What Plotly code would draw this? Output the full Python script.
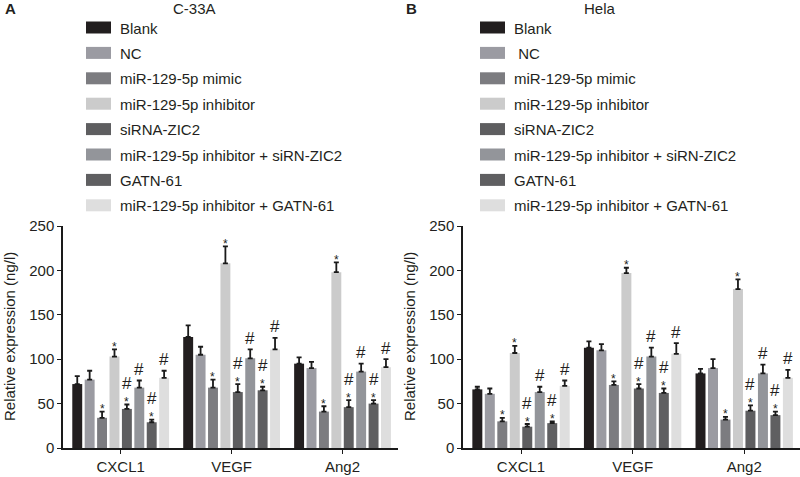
import plotly.graph_objects as go

W, H = 800, 477

categories = ["CXCL1", "VEGF", "Ang2"]
groups_a = ["Blank", "NC", "miR-129-5p mimic", "miR-129-5p inhibitor", "siRNA-ZIC2",
            "miR-129-5p inhibitor + siRN-ZIC2", "GATN-61", "miR-129-5p inhibitor + GATN-61"]
groups_b = ["Blank", " NC", "miR-129-5p mimic", "miR-129-5p inhibitor", "siRNA-ZIC2",
            "miR-129-5p inhibitor + siRN-ZIC2", "GATN-61", "miR-129-5p inhibitor + GATN-61"]
colors = ["#221e1f", "#9b9ba2", "#7c7c80", "#cbcbcb", "#5e5e60", "#93959a", "#5f5f61", "#dedede"]

# C-33A values (per group: CXCL1, VEGF, Ang2)
c33a_blank = [72, 125, 95]
c33a_nc = [77, 105, 90]
c33a_mimic = [34, 68, 41]
c33a_inhib = [103, 208, 198]
c33a_sirna = [44, 63, 46]
c33a_inh_si = [68, 101, 86]
c33a_gatn = [29, 65, 50]
c33a_inh_gatn = [79, 111, 91]

c33a_blank_err = [9, 13, 7]
c33a_nc_err = [10, 9, 7]
c33a_mimic_err = [7, 9, 6]
c33a_inhib_err = [8, 19, 11]
c33a_sirna_err = [5, 9, 8]
c33a_inh_si_err = [8, 10, 9]
c33a_gatn_err = [3, 4, 4]
c33a_inh_gatn_err = [8, 13, 9]

# Hela values
hela_blank = [66, 113, 84]
hela_nc = [61, 110, 90]
hela_mimic = [30, 71, 32]
hela_inhib = [107, 197, 179]
hela_sirna = [24, 67, 42]
hela_inh_si = [63, 103, 84]
hela_gatn = [28, 62, 37]
hela_inh_gatn = [70, 106, 79]

hela_blank_err = [3, 7, 5]
hela_nc_err = [6, 7, 10]
hela_mimic_err = [4, 4, 3]
hela_inhib_err = [8, 6, 11]
hela_sirna_err = [3, 5, 6]
hela_inh_si_err = [6, 10, 10]
hela_gatn_err = [2, 5, 4]
hela_inh_gatn_err = [6, 12, 9]

# significance marks per group (same for all categories)
marks = ["", "", "*", "*", "*#", "#", "*#", "#"]

panels = [
    dict(title="C-33A", label="A", names=groups_a,
         vals=[c33a_blank, c33a_nc, c33a_mimic, c33a_inhib, c33a_sirna, c33a_inh_si, c33a_gatn, c33a_inh_gatn],
         errs=[c33a_blank_err, c33a_nc_err, c33a_mimic_err, c33a_inhib_err, c33a_sirna_err,
               c33a_inh_si_err, c33a_gatn_err, c33a_inh_gatn_err]),
    dict(title="Hela", label="B", names=groups_b,
         vals=[hela_blank, hela_nc, hela_mimic, hela_inhib, hela_sirna, hela_inh_si, hela_gatn, hela_inh_gatn],
         errs=[hela_blank_err, hela_nc_err, hela_mimic_err, hela_inhib_err, hela_sirna_err,
               hela_inh_si_err, hela_gatn_err, hela_inh_gatn_err]),
]

FONT = "Liberation Sans, Arial, sans-serif"
TXT = "#231f20"
BARGAP = 0.105
GROUPGAP = 0.2
N = len(groups_a)

fig = go.Figure()
annotations = []
shapes = []

# pixel geometry
x_domains = [(63, 398), (463, 800)]
y_top, y_bot = 226, 448
legend_sw = [(86, 111, 118), (480, 505, 512)]
title_x = [194, 600]
label_x = [10, 411]
ytitle_x = [9, 409]

for p, pan in enumerate(panels):
    xa = "x" if p == 0 else "x2"
    ya = "y" if p == 0 else "y2"
    for i in range(N):
        fig.add_trace(go.Bar(
            x=categories, y=pan["vals"][i], name=pan["names"][i],
            marker=dict(color=colors[i], line=dict(width=0)),
            error_y=dict(type="data", symmetric=False, array=pan["errs"][i],
                         arrayminus=[0] * len(categories), color="#1a1a1a",
                         thickness=1.8, width=2.5),
            xaxis=xa, yaxis=ya, showlegend=False, hoverinfo="skip",
        ))
        # significance marks
        slot = (1 - BARGAP) / N
        for c in range(len(categories)):
            xc = c - (1 - BARGAP) / 2 + slot * (i + 0.5)
            top = pan["vals"][i][c] + pan["errs"][i][c]
            m = marks[i]
            if "*" in m:
                annotations.append(dict(x=xc, y=top, xref=xa, yref=ya, text="*", showarrow=False,
                                        yanchor="middle", yshift=2.5,
                                        font=dict(family=FONT, size=12, color=TXT)))
            if "#" in m:
                ys = 21 if "*" in m else 11
                annotations.append(dict(x=xc, y=top, xref=xa, yref=ya, text="#", showarrow=False,
                                        yanchor="middle", yshift=ys,
                                        font=dict(family=FONT, size=17, color=TXT)))
    # legend swatches
    x0, x1, xt = legend_sw[p]
    for i in range(N):
        yc = 27.5 + 25.4 * i
        shapes.append(dict(type="rect", xref="paper", yref="paper",
                           x0=x0 / W, x1=x1 / W, y0=1 - (yc - 6) / H, y1=1 - (yc + 6) / H,
                           fillcolor=colors[i], line=dict(width=0)))
        annotations.append(dict(x=xt / W, y=1 - (yc + 0.5) / H, xref="paper", yref="paper",
                                text=pan["names"][i], showarrow=False, xanchor="left", yanchor="middle",
                                font=dict(family=FONT, size=15, color=TXT)))
    annotations.append(dict(x=title_x[p] / W, y=1 - 9 / H, xref="paper", yref="paper",
                            text=pan["title"], showarrow=False, xanchor="center", yanchor="middle",
                            font=dict(family=FONT, size=15, color=TXT)))
    annotations.append(dict(x=label_x[p] / W, y=1 - 9 / H, xref="paper", yref="paper",
                            text="<b>" + pan["label"] + "</b>", showarrow=False, xanchor="center",
                            yanchor="middle", font=dict(family=FONT, size=15, color=TXT)))
    annotations.append(dict(x=ytitle_x[p] / W, y=1 - 337 / H, xref="paper", yref="paper",
                            text="Relative expression (ng/l)", showarrow=False, textangle=-90,
                            xanchor="center", yanchor="middle",
                            font=dict(family=FONT, size=15, color=TXT)))

axis_common_x = dict(range=[-0.52, 2.5], showline=True, linecolor="#1a1a1a", linewidth=1.5,
                     ticks="outside", ticklen=4, tickwidth=1.2, tickcolor="#1a1a1a",
                     tickfont=dict(family=FONT, size=15, color=TXT), showgrid=False,
                     zeroline=False, automargin=False, fixedrange=True)
axis_common_y = dict(range=[0, 250], tickvals=[0, 50, 100, 150, 200, 250], showline=True,
                     linecolor="#1a1a1a", linewidth=1.5, ticks="outside", ticklen=4, tickwidth=1.2,
                     tickcolor="#1a1a1a", tickfont=dict(family=FONT, size=15, color=TXT),
                     showgrid=False, zeroline=False, automargin=False, fixedrange=True,
                     domain=[1 - y_bot / H, 1 - y_top / H])

fig.update_layout(
    width=W, height=H, margin=dict(l=0, r=0, t=0, b=0),
    paper_bgcolor="white", plot_bgcolor="white",
    barmode="group", bargap=BARGAP, bargroupgap=GROUPGAP,
    xaxis=dict(domain=[x_domains[0][0] / W, x_domains[0][1] / W], anchor="y", **axis_common_x),
    xaxis2=dict(domain=[x_domains[1][0] / W, x_domains[1][1] / W], anchor="y2", **axis_common_x),
    yaxis=dict(anchor="x", **axis_common_y),
    yaxis2=dict(anchor="x2", **axis_common_y),
    annotations=annotations, shapes=shapes, showlegend=False,
)

fig.write_html("out.html", config={"displayModeBar": False},
               post_script="document.body.style.margin='0';document.body.style.padding='0';"
                           "document.body.style.overflow='hidden';")
